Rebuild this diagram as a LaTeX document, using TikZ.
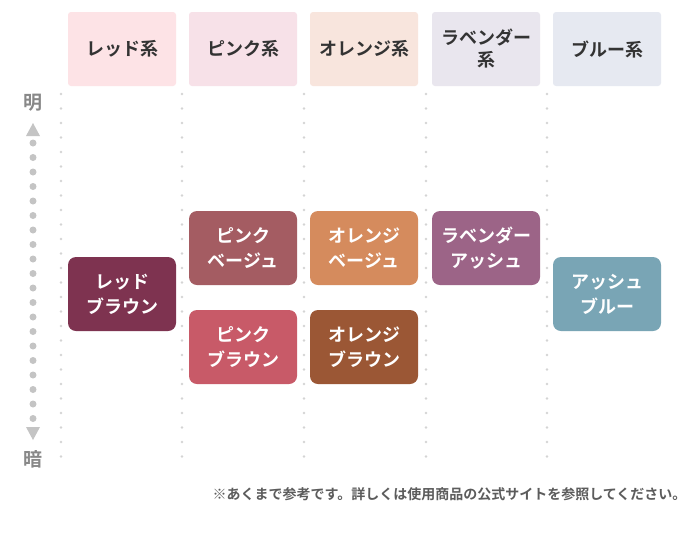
\documentclass[tikz,border=0pt]{standalone}
\usepackage{fontspec}
\setmainfont{Noto Sans CJK JP}[BoldFont={* Bold}]
\definecolor{hR}{HTML}{FDE3E6}\definecolor{hP}{HTML}{F7E1E8}\definecolor{hO}{HTML}{F8E5DD}
\definecolor{hL}{HTML}{E9E6EE}\definecolor{hB}{HTML}{E6E9F1}
\definecolor{tRB}{HTML}{7E3350}\definecolor{tPBe}{HTML}{A45C62}\definecolor{tPBr}{HTML}{C85A68}
\definecolor{tOBe}{HTML}{D58B5D}\definecolor{tOBr}{HTML}{9B5735}\definecolor{tLA}{HTML}{9C6487}
\definecolor{tAB}{HTML}{79A5B5}\definecolor{txt}{HTML}{333333}\definecolor{gr}{HTML}{AAAAAA}
\begin{document}
\begin{tikzpicture}[x=1pt,y=-1pt,
 hdr/.style={fill=#1,rounded corners=3pt,minimum width=108pt,minimum height=74pt,inner sep=0pt,align=center,font=\bfseries\fontsize{18}{22}\selectfont,text=txt},
 tile/.style={fill=#1,rounded corners=8pt,minimum width=108pt,minimum height=74pt,inner sep=0pt,align=center,font=\bfseries\fontsize{18}{25}\selectfont,text=white}]
\useasboundingbox (0,0) rectangle (690,552);
\fill[white] (0,0) rectangle (690,552);
\foreach \x in {61,182,304,426,547}{\foreach \y in {94,108.5,...,470}{\fill[gr!50] (\x,\y) circle (1.4);}}
\node[hdr=hR] (h1) at (122,49) {レッド系};
\node[hdr=hP] (h2) at (243,49) {ピンク系};
\node[hdr=hO] (h3) at (364,49) {オレンジ系};
\node[hdr=hL] (h4) at (486,49) {ラベンダー\\系};
\node[hdr=hB] (h5) at (607,49) {ブルー系};
\node[tile=tRB] (t1) at (122,294) {レッド\\ブラウン};
\node[tile=tPBe] (t2) at (243,248) {ピンク\\ベージュ};
\node[tile=tPBr] (t3) at (243,347) {ピンク\\ブラウン};
\node[tile=tOBe] (t4) at (364,248) {オレンジ\\ベージュ};
\node[tile=tOBr] (t5) at (364,347) {オレンジ\\ブラウン};
\node[tile=tLA] (t6) at (486,248) {ラベンダー\\アッシュ};
\node[tile=tAB] (t7) at (607,294) {アッシュ\\ブルー};
\node[font=\bfseries\fontsize{19}{19}\selectfont,text=gr!80!black] (light) at (33,103) {明};
\node[font=\bfseries\fontsize{19}{19}\selectfont,text=gr!80!black] (dark) at (33,459) {暗};
\fill[gr!70] (26,136) -- (40,136) -- (33,123) -- cycle;
\fill[gr!70] (26,427) -- (40,427) -- (33,440) -- cycle;
\foreach \y in {143,157.5,...,420}{\fill[gr!70] (33,\y) circle (3.5);}
\node[anchor=east,font=\bfseries\fontsize{14}{14}\selectfont,text=txt!80] (note) at (690,494) {※あくまで参考です。詳しくは使用商品の公式サイトを参照してください。};
\end{tikzpicture}
\end{document}
